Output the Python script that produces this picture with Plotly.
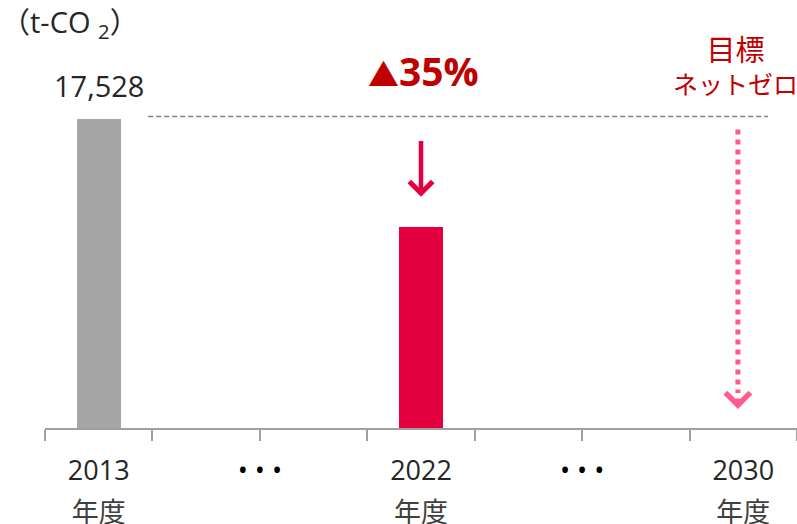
import plotly.graph_objects as go

# ---- data ----
categories = ["2013", "•••", "2022", "•••", "2030"]
cat_pos = [0.5, 2.0, 3.5, 5.0, 6.5]
bar_years = ["2013", "2022"]
bar_pos = [0.5, 3.5]
bar_values = [17528, 11393]
bar_colors = ["#A6A6A6", "#E4003F"]
unit_label = "（t-CO <sub>2</sub>）"
year_suffix = "年度"
target_label = ["目標", "ネットゼロ"]
target_pos = 6.45

FONT = "Open Sans, Noto Sans CJK JP, sans-serif"
ymax = bar_values[0] * 368 / 309.5

fig = go.Figure()
fig.add_trace(go.Bar(x=bar_pos, y=bar_values, width=0.41,
                     marker=dict(color=bar_colors, line=dict(width=0)),
                     hoverinfo="skip", showlegend=False))
# invisible trace for second axis (年度 labels)
fig.add_trace(go.Scatter(x=cat_pos, y=[0]*5, xaxis="x2", mode="markers",
                         marker=dict(opacity=0), showlegend=False, hoverinfo="skip"))

tick_text = [t if t != "•••" else "<span style='color:#000000'>• • •</span>" for t in categories]

fig.update_layout(
    width=797, height=524,
    margin=dict(l=45, r=0, t=60, b=96, autoexpand=False),
    plot_bgcolor="white", paper_bgcolor="white",
    font=dict(family=FONT, color="#262626"),
    xaxis=dict(range=[0, 7], tickvals=cat_pos, ticktext=tick_text, ticks="",
               showline=True, linecolor="#A0A0A0", linewidth=2, showgrid=False,
               zeroline=False, tickfont=dict(size=27, family=FONT, color="#262626"),
               ticklabelstandoff=18, automargin=False,
               minor=dict(tickvals=list(range(0, 8)), ticks="outside", ticklen=11,
                          tickwidth=2, tickcolor="#A0A0A0", showgrid=False)),
    xaxis2=dict(range=[0, 7], overlaying="x", side="bottom", anchor="y",
                tickvals=[p for p, c in zip(cat_pos, categories) if c != "•••"],
                ticktext=[year_suffix] * 3, ticks="", showline=False, showgrid=False,
                zeroline=False, tickfont=dict(size=27, family=FONT, color="#404040"),
                ticklabelstandoff=66, automargin=False),
    yaxis=dict(range=[0, ymax], visible=False, fixedrange=True, automargin=False),
    bargap=0,
)

per_px = ymax / 368

# dashed reference line at the 2013 level
fig.add_shape(type="line", x0=0.96, x1=6.73, y0=bar_values[0] + 2 * per_px,
              y1=bar_values[0] + 2 * per_px, xref="x", yref="y",
              line=dict(color="#808080", width=1.5, dash="5px,3px"))

# value label
fig.add_annotation(x=bar_pos[0], y=bar_values[0], xref="x", yref="y",
                   text=f"{bar_values[0]:,}", showarrow=False, yanchor="bottom",
                   yshift=12, font=dict(size=29, family=FONT, color="#262626"))

# unit label
fig.add_annotation(x=0, y=1, xref="paper", yref="paper", xanchor="left", yanchor="top",
                   text=unit_label, showarrow=False, xshift=-46, yshift=60,
                   font=dict(size=29, family=FONT, color="#262626"))

# reduction label
reduction = round((1 - bar_values[1] / bar_values[0]) * 100)
fig.add_annotation(x=bar_pos[1], y=bar_values[0], xref="x", yref="y",
                   text=f"<b><span style='font-size:31px'>▲</span>{reduction}%</b>",
                   showarrow=False, yanchor="bottom", xshift=2,
                   yshift=20, font=dict(size=39, family=FONT, color="#C00000"))

# red arrow
fig.add_annotation(x=bar_pos[1], y=bar_values[1] + 30 * per_px, xref="x", yref="y",
                   ax=bar_pos[1], ay=bar_values[0] - 21 * per_px, axref="x", ayref="y",
                   showarrow=True, arrowhead=4, arrowsize=1, arrowwidth=4.5,
                   arrowcolor="#E4003F", text="")

# target label
fig.add_annotation(x=target_pos, y=bar_values[0], xref="x", yref="y",
                   text=f"<span style='font-size:29px'>{target_label[0]}</span><br>{target_label[1]}",
                   showarrow=False, yanchor="bottom", yshift=16, xshift=-2,
                   font=dict(size=25, family=FONT, color="#C00000"))

# dotted pink arrow
fig.add_shape(type="line", x0=target_pos, x1=target_pos,
              y0=bar_values[0] - 11 * per_px, y1=35 * per_px, xref="x", yref="y",
              line=dict(color="#FF5C8D", width=5, dash="dot"))
fig.add_annotation(x=target_pos, y=19 * per_px, xref="x", yref="y",
                   ax=0, ay=-12, showarrow=True, arrowhead=4, arrowsize=1,
                   arrowwidth=4.8, arrowcolor="#FF5C8D", text="")

fig.write_html("out.html")
